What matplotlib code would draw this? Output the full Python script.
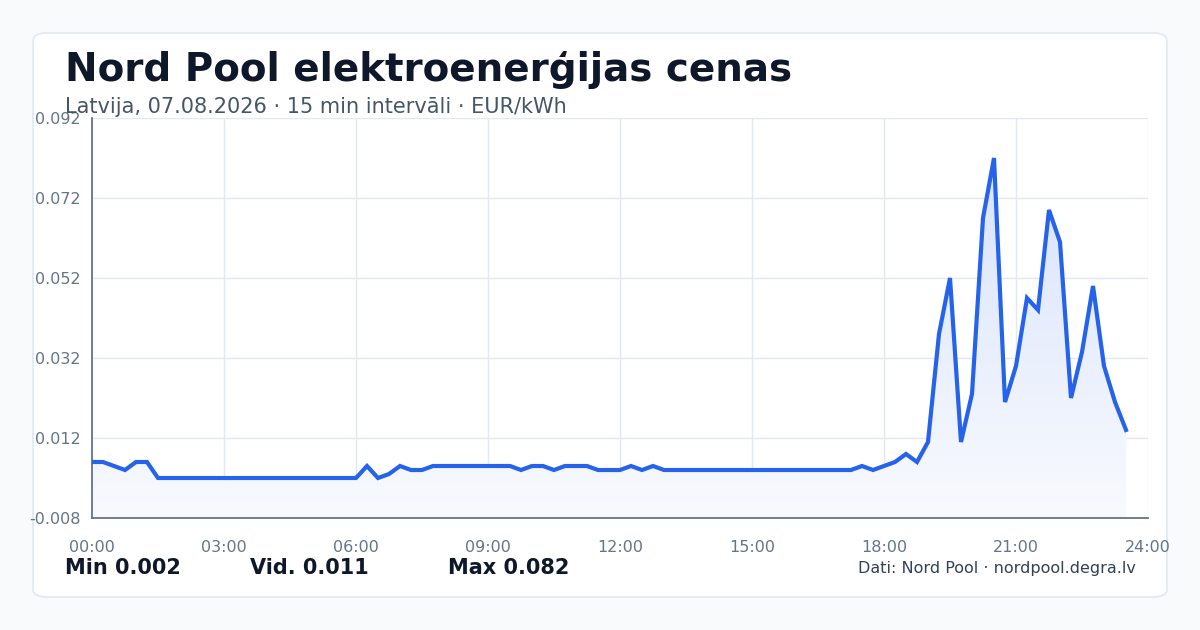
import numpy as np
import matplotlib
matplotlib.use("Agg")
import matplotlib.pyplot as plt
from matplotlib.patches import FancyBboxPatch
from matplotlib.colors import LinearSegmentedColormap

# 15 min prices, EUR/kWh (96 intervals)
prices = (
    [0.006, 0.006, 0.005, 0.004, 0.006, 0.006]
    + [0.002] * 19
    + [0.005, 0.002, 0.003, 0.005, 0.004, 0.004]
    + [0.005] * 8
    + [0.004, 0.005, 0.005, 0.004, 0.005, 0.005, 0.005, 0.004, 0.004, 0.004,
       0.005, 0.004, 0.005]
    + [0.004] * 18
    + [0.005, 0.004, 0.005, 0.006, 0.008, 0.006, 0.011, 0.038, 0.052, 0.011,
       0.023, 0.067, 0.082, 0.021, 0.030, 0.047, 0.044, 0.069, 0.061, 0.022,
       0.0335, 0.050, 0.030, 0.021, 0.014]
)
hours = np.arange(len(prices)) * 0.25
xticks = [0, 3, 6, 9, 12, 15, 18, 21, 24]
xlabels = ["00:00", "03:00", "06:00", "09:00", "12:00", "15:00", "18:00", "21:00", "24:00"]
yticks = [-0.008, 0.012, 0.032, 0.052, 0.072, 0.092]

fig = plt.figure(figsize=(12, 6.3), dpi=100)
fig.patch.set_facecolor("#f8fafc")
card = FancyBboxPatch((33 / 1200, 33 / 630), 1134 / 1200, 564 / 630,
                      boxstyle="round,pad=0,rounding_size=0.012",
                      transform=fig.transFigure, facecolor="white",
                      edgecolor="#e2e8f0", linewidth=1.2, zorder=-10)
fig.patches.append(card)

ax = fig.add_axes([92 / 1200, 112 / 630, 1056 / 1200, 400 / 630])
ax.set_facecolor("none")
y = np.array(prices)

# gradient fill under the line
grad = np.linspace(0, 1, 256).reshape(-1, 1)
cmap = LinearSegmentedColormap.from_list("g", ["#f8fafe", "#d8e3fb"])
im = ax.imshow(grad, extent=[0, 24, -0.008, 0.082], origin="lower",
               aspect="auto", cmap=cmap, zorder=1)
poly = ax.fill_between(hours, y, -0.008, color="none")
im.set_clip_path(poly.get_paths()[0], transform=ax.transData)

ax.plot(hours, y, color="#2563eb", lw=3, zorder=3, solid_joinstyle="miter")
ax.set_xlim(0, 24)
ax.set_ylim(-0.008, 0.092)
ax.set_xticks(xticks)
ax.set_xticklabels(xlabels)
ax.set_yticks(yticks)
ax.set_yticklabels([f"{v:.3f}" for v in yticks])
ax.grid(color="#e2e8f0", lw=1)
ax.set_axisbelow(True)
for s in ["top", "right"]:
    ax.spines[s].set_visible(False)
for s in ["left", "bottom"]:
    ax.spines[s].set_color("#64748b")
    ax.spines[s].set_linewidth(1.3)
ax.tick_params(length=0, colors="#64748b", labelsize=11.5, pad=8)
ax.tick_params(axis="x", pad=16)

fig.text(65 / 1200, 1 - 70 / 630, "Nord Pool elektroenerģijas cenas",
         fontsize=28, fontweight="bold", color="#0f172a", va="center")
fig.text(65 / 1200, 1 - 107 / 630, "Latvija, 07.08.2026 · 15 min intervāli · EUR/kWh",
         fontsize=15, color="#475569", va="center")
for xp, t in [(65, "Min 0.002"), (250, "Vid. 0.011"), (448, "Max 0.082")]:
    fig.text(xp / 1200, 1 - 568 / 630, t, fontsize=15, fontweight="bold",
             color="#0f172a", va="center")
fig.text(1136 / 1200, 1 - 568 / 630, "Dati: Nord Pool · nordpool.degra.lv",
         fontsize=11.5, color="#334155", va="center", ha="right")

fig.savefig("out.png", dpi=100, facecolor=fig.get_facecolor())
